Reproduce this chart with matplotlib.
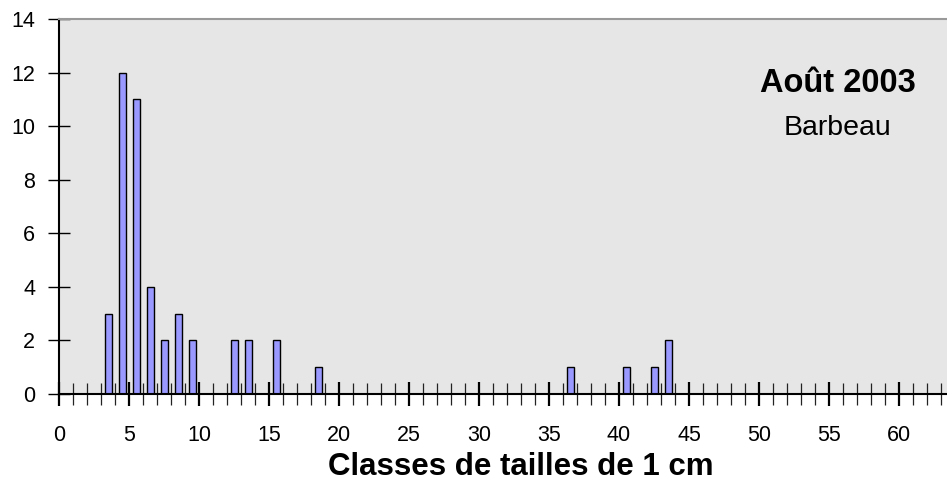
import numpy as np
import matplotlib
matplotlib.use("Agg")
import matplotlib.pyplot as plt
from matplotlib.ticker import MultipleLocator

plt.rcParams['font.family'] = ['Liberation Sans', 'DejaVu Sans']

# Data: size classes (cm, lower bound) and counts
classes = np.array([3, 4, 5, 6, 7, 8, 9, 12, 13, 15, 18, 36, 40, 42, 43])
counts = [3, 12, 11, 4, 2, 3, 2, 2, 2, 2, 1, 1, 1, 1, 2]
yticks = [0, 2, 4, 6, 8, 10, 12, 14]
xticks = [0, 5, 10, 15, 20, 25, 30, 35, 40, 45, 50, 55, 60]
title = "Août 2003"
subtitle = "Barbeau"
xlabel = "Classes de tailles de 1 cm"

W, H = 947, 484
fig = plt.figure(figsize=(W / 100, H / 100), dpi=100)
ax = fig.add_axes([59 / W, 90 / H, 888 / W, 375 / H])
ax.set_facecolor('#e6e6e6')

ax.bar(classes + 0.5, counts, width=0.5, color='#9999ff',
       edgecolor='black', linewidth=1.0, zorder=3)

ax.set_xlim(0, 888 / 14)
ax.set_ylim(0, 14)
ax.set_yticks(yticks)
ax.set_xticks(xticks)
ax.xaxis.set_minor_locator(MultipleLocator(1))

ax.tick_params(axis='x', which='major', direction='inout', length=17,
               width=1.6, color='black', labelsize=15.5, pad=14)
ax.tick_params(axis='x', which='minor', direction='inout', length=16,
               width=0.9, color='#222222')
ax.tick_params(axis='y', which='major', direction='inout', length=16.5,
               width=1.0, color='black', labelsize=15.5, pad=9)

ax.spines['right'].set_visible(False)
ax.spines['top'].set_color('#999999')
ax.spines['top'].set_linewidth(1.5)
ax.spines['left'].set_linewidth(1.5)
ax.spines['bottom'].set_linewidth(1.5)
ax.spines['bottom'].set_zorder(4)

ax.set_xlabel(xlabel, fontsize=22.5, fontweight='bold')
ax.xaxis.set_label_coords(0.52, -0.195)
ax.xaxis.label.set_va('center')

ax.text(0.8767, 0.8053, title, transform=ax.transAxes, ha='center',
        va='baseline', fontsize=23.5, fontweight='bold')
ax.text(0.8767, 0.6907, subtitle, transform=ax.transAxes, ha='center',
        va='baseline', fontsize=20.5)

fig.savefig('out.png', dpi=100)
